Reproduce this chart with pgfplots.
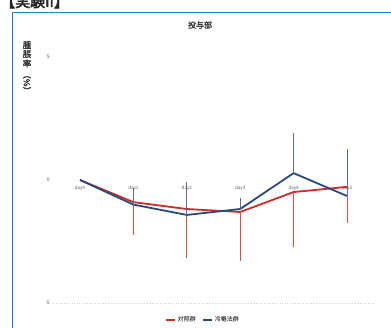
\documentclass[border=0pt]{standalone}
\usepackage{pgfplots}
\usepackage{pgfplotstable}
\pgfplotsset{compat=1.18}
\usepackage{fontspec}
\setmainfont{Noto Sans CJK JP}
\newfontfamily\hdr[FakeBold=3]{Noto Sans CJK JP}
\newfontfamily\lbl[FakeBold=1.5]{Noto Sans CJK JP}
\definecolor{redl}{RGB}{205,45,40}
\definecolor{bluel}{RGB}{40,75,125}
\definecolor{rederr}{RGB}{205,85,75}
\definecolor{blueerr}{RGB}{95,110,150}
\definecolor{framec}{RGB}{40,125,185}
\definecolor{txt}{RGB}{90,90,90}

\pgfplotstableread{
x y e
0 0 0
1 -0.90 1.34
2 -1.18 2.00
3 -1.30 2.00
4 -0.49 2.23
5 -0.28 1.47
}\ctrl
\pgfplotstableread{
x y e
0 0 0
1 -1.00 0.67
2 -1.42 1.34
3 -1.18 0.45
4 0.28 1.62
5 -0.65 1.91
}\cold

\begin{document}
\begin{tikzpicture}[x=1pt,y=1pt]
\useasboundingbox (0,0) rectangle (391,328);
\fill[white] (0,0) rectangle (391,328);
% header (partly cut off at top)
\node[anchor=base west, inner sep=0pt, font=\hdr\fontsize{15}{15}\selectfont, text=black!85] at (0,321) {【実験II】};
% frame
\draw[framec, line width=1.6pt] (12.5,-10) -- (12.5,315.5) -- (400,315.5);
% title
\node[font=\lbl\fontsize{8}{9}\selectfont, text=black!80] at (200,303) {投与部};
% y label (vertical)
\node[anchor=north, inner sep=0pt, font=\lbl\fontsize{8.5}{9}\selectfont, text=black!80, align=center] at (27,287)
  {\shortstack{腫\\[-1.5pt]脹\\[-1.5pt]率\\[0pt]\rotatebox{-90}{（\%）}}};
\begin{axis}[
  at={(53.3pt,25pt)}, anchor=south west,
  scale only axis, width=320.4pt, height=246pt,
  xmin=-0.5, xmax=5.5, ymin=-5, ymax=5,
  axis x line=middle, axis y line=left,
  hide obscured x ticks=false, hide obscured y ticks=false,
  axis line style={draw=none},
  major tick length=0pt,
  xtick={0,1,2,3,4,5},
  xticklabels={day0,day1,day2,day3,day4,day5},
  ytick={-5,0,5},
  /pgf/number format/assume math mode=true,
  xticklabel style={font=\fontsize{4.5}{5}\selectfont, text=txt, inner sep=1pt, yshift=-5pt},
  yticklabel style={font=\fontsize{5}{6}\selectfont, text=txt},
  extra y ticks={-5}, extra y tick labels={},
  extra y tick style={grid=major, major grid style={gray!35, line width=0.6pt, dotted}},
  legend style={at={(0.467,-0.07)}, anchor=center, draw=none, fill=none,
    font=\fontsize{6}{7}\selectfont, legend columns=2,
    /tikz/every even column/.append style={column sep=4pt}},
  legend image code/.code={\draw[#1] (0pt,0pt) -- (9pt,0pt);},
  clip=false,
]
\addplot[redl, line width=1.8pt, forget plot,
  error bars/.cd, y dir=minus, y explicit, error mark=none,
  error bar style={rederr, line width=0.7pt}]
  table[x=x, y=y, y error=e] {\ctrl};
\addplot[bluel, line width=1.8pt, forget plot,
  error bars/.cd, y dir=plus, y explicit, error mark=none,
  error bar style={blueerr, line width=0.7pt}]
  table[x=x, y=y, y error=e] {\cold};
\addlegendimage{redl, line width=2pt}
\addlegendentry{対照群}
\addlegendimage{bluel, line width=2pt}
\addlegendentry{冷罨法群}
\end{axis}
\end{tikzpicture}
\end{document}
